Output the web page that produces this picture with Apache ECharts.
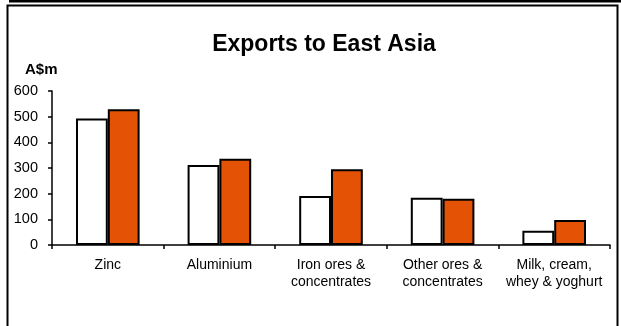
<!DOCTYPE html>
<html>
<head>
<meta charset="utf-8">
<script src="https://cdn.jsdelivr.net/npm/echarts@6/dist/echarts.min.js"></script>
<style>
html,body{margin:0;padding:0;background:#fff;}
#c{width:621px;height:326px;}
</style>
</head>
<body>
<div id="c"></div>
<script>
var categories = ['Zinc', 'Aluminium', 'Iron ores &\nconcentrates', 'Other ores &\nconcentrates', 'Milk, cream,\nwhey & yoghurt'];
var seriesA = [493, 312, 191, 184, 56];
var seriesB = [529, 336, 295, 180, 97];
var yTicks = [0, 100, 200, 300, 400, 500, 600];

var chart = echarts.init(document.getElementById('c'), null, {renderer: 'canvas'});
var font = 'Liberation Sans, Arial, sans-serif';
chart.setOption({
  animation: false,
  backgroundColor: '#fff',
  title: {
    text: 'Exports to East Asia',
    left: 319, top: 28, textAlign: 'center',
    textStyle: {fontFamily: font, fontSize: 23, fontWeight: 'bold', color: '#000'}
  },
  graphic: [
    {type: 'rect', shape: {x: 9, y: 0, width: 612, height: 2.5}, style: {fill: '#000'}},
    {type: 'polyline', shape: {points: [[7.5, 340], [7.5, 5.5], [617.5, 5.5], [617.5, 340]]}, style: {stroke: '#000', lineWidth: 2, fill: null}},
    {type: 'text', left: 25, top: 62, style: {text: 'A$m', font: 'bold 15px ' + font, fill: '#000'}}
  ],
  grid: {left: 52, right: 11, top: 91, bottom: 81, containLabel: false},
  xAxis: {
    type: 'category',
    data: categories,
    axisLine: {lineStyle: {color: '#000', width: 1.5}},
    axisTick: {show: true, interval: 0, length: 4, lineStyle: {color: '#000', width: 1.5}},
    axisLabel: {interval: 0, color: '#000', fontFamily: font, fontSize: 14, lineHeight: 17, margin: 12}
  },
  yAxis: {
    type: 'value',
    min: yTicks[0], max: yTicks[yTicks.length - 1], interval: 100,
    splitLine: {show: false},
    axisLine: {show: true, lineStyle: {color: '#000', width: 1.5}},
    axisTick: {show: true, length: 4, lineStyle: {color: '#000', width: 1.5}},
    axisLabel: {color: '#000', fontFamily: font, fontSize: 14.5, margin: 14}
  },
  series: [
    {name: 'Previous year', type: 'bar', data: seriesA, barGap: '0%', barCategoryGap: '43%',
     itemStyle: {color: '#fff', borderColor: '#000', borderWidth: 2}},
    {name: 'Current year', type: 'bar', data: seriesB, barGap: '0%', barCategoryGap: '43%',
     itemStyle: {color: '#E35205', borderColor: '#000', borderWidth: 2}}
  ]
});
</script>
</body>
</html>
